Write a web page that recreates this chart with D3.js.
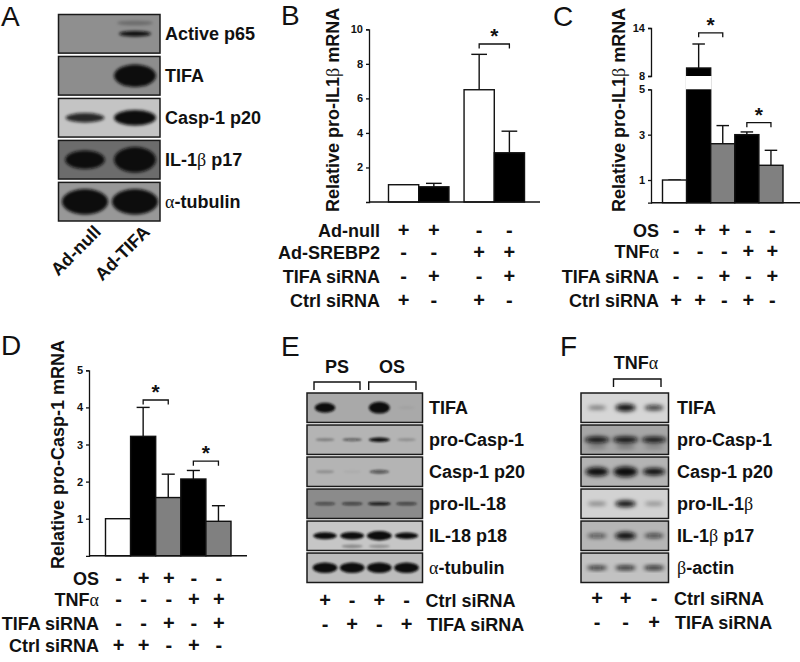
<!DOCTYPE html>
<html>
<head>
<meta charset="utf-8">
<script src="https://cdn.jsdelivr.net/npm/d3@7"></script>
<style>
  body { margin: 0; background: #fff; }
  text { font-family: "Liberation Sans", Arial, sans-serif; fill: #111; }
</style>
</head>
<body>
<svg id="fig" width="800" height="662"></svg>
<script>
// ---- bar data ----
const panelBValues = [1, 0.88, 6.5, 2.85];
const panelBErrTop = [1, 1.08, 8.55, 4.1];
const panelBFills = ["#fff", "#000", "#fff", "#000"];
const panelBRows = ["Ad-null", "Ad-SREBP2", "TIFA siRNA", "Ctrl siRNA"];
const panelBSigns = ["++--", "--++", "-+-+", "+-+-"];

const panelCValues = [1, 9, 2.6, 3.0, 1.65];
const panelCErrTop = [1, 12, 3.4, 3.12, 2.31];
const panelCFills = ["#fff", "#000", "#808080", "#000", "#808080"];
const panelCTicksLow = [1, 3, 5];
const panelCTicksHigh = [8, 14];

const panelDValues = [1, 3.22, 1.57, 2.07, 0.93];
const panelDErrTop = [1, 4.0, 2.2, 2.3, 1.35];
const panelDFills = ["#fff", "#000", "#808080", "#000", "#808080"];

const fiveBarRows = ["OS", "TNFα", "TIFA siRNA", "Ctrl siRNA"];
const fiveBarSigns = ["-++--", "---++", "--+-+", "++-+-"];

// ---- blot data: band strength per lane, 0..1 ----
const blotARows = ["Active p65", "TIFA", "Casp-1 p20", "IL-1β p17", "α-tubulin"];
const blotABands = [[0, 0.8], [0, 1], [0.6, 1], [0.72, 1], [1, 1]];
const blotABg = ["#8f8f8f", "#8d8d8d", "#c4c4c4", "#6c6c6c", "#989898"];
const blotAThick = [0.09, 0.29, 0.2, 0.33, 0.33];
const blotAWide = [0.8, 1, 1, 1, 1.1];

const blotERows = ["TIFA", "pro-Casp-1", "Casp-1 p20", "pro-IL-18", "IL-18 p18", "α-tubulin"];
const blotEBands = [[0.85, 0, 1, 0.03], [0.22, 0.35, 0.75, 0.15], [0.15, 0.03, 0.4, 0], [0.4, 0.45, 0.85, 0.45], [0.75, 0.8, 1, 0.7], [0.95, 0.95, 0.95, 0.95]];
const blotEBg = ["#a9a9a9", "#b4b4b4", "#b4b4b4", "#8b8b8b", "#c6c6c6", "#bcbcbc"];
const blotEThick = [0.2, 0.1, 0.16, 0.06, 0.16, 0.19];
const blotEWide = [0.85, 0.9, 0.9, 0.95, 1, 1];
const blotECtrl = "+-+-";
const blotETifa = "-+-+";

const blotFRows = ["TIFA", "pro-Casp-1", "Casp-1 p20", "pro-IL-1β", "IL-1β p17", "β-actin"];
const blotFBands = [[0.4, 0.9, 0.6], [0.9, 0.95, 0.85], [0.85, 1, 0.7], [0.35, 0.8, 0.3], [0.5, 0.9, 0.55], [0.7, 0.75, 0.75]];
const blotFBg = ["#d6d6d6", "#a6a6a6", "#b4b4b4", "#d2d2d2", "#b6b6b6", "#c2c2c2"];
const blotFThick = [0.14, 0.12, 0.18, 0.14, 0.14, 0.09];
const blotFWide = [0.9, 1.1, 1.05, 0.95, 0.95, 0.95];
const blotFCtrl = "++-";
const blotFTifa = "--+";

const svg = d3.select("#fig");
const labelSize = 18;

const defs = svg.append("defs");
[["blurA", 1.5], ["blurE", 1.2], ["blurF", 2]].forEach(([id, s]) => {
  defs.append("filter").attr("id", id)
    .attr("x", "-30%").attr("y", "-80%").attr("width", "160%").attr("height", "260%")
    .append("feGaussianBlur").attr("stdDeviation", s);
});

// greek letters sit in a thin serif in the original
function addText(el, str) {
  str.split(/([αβ])/).filter(s => s).forEach(s => {
    const t = el.append("tspan").text(s);
    if (s === "α" || s === "β") t.style("font-family", "'Liberation Serif'").attr("font-weight", "normal");
  });
  return el;
}

function label(x, y, str, anchor = "start", size = labelSize, g = svg) {
  return addText(g.append("text").attr("x", x).attr("y", y)
    .attr("text-anchor", anchor).attr("font-size", size).attr("font-weight", "bold"), str);
}

function panelLetter(str, x, y) {
  svg.append("text").attr("x", x).attr("y", y).attr("font-size", 28).text(str);
}

function yTitle(str, x, y) {
  addText(svg.append("text")
    .attr("transform", `translate(${x},${y}) rotate(-90)`)
    .attr("font-size", 18).attr("font-weight", "bold"), str);
}

function styleAxis(g) {
  g.selectAll("path,line").attr("stroke", "#111").attr("stroke-width", 1.3);
  g.selectAll("text").attr("font-size", 11).attr("font-weight", "bold")
    .style("font-family", "'Liberation Sans'").attr("fill", "#111");
}

function drawBars(g, x, y, values, errTop, fills) {
  const w = x.bandwidth();
  const capW = w * 0.26;
  values.forEach((v, i) => {
    const cx = x(i) + w / 2;
    g.append("line").attr("x1", cx).attr("x2", cx).attr("y1", y(v)).attr("y2", y(errTop[i]))
      .attr("stroke", "#111").attr("stroke-width", 1.4);
    g.append("line").attr("x1", cx - capW).attr("x2", cx + capW).attr("y1", y(errTop[i])).attr("y2", y(errTop[i]))
      .attr("stroke", "#111").attr("stroke-width", 1.4);
  });
  g.selectAll(null).data(values).enter().append("rect")
    .attr("x", (d, i) => x(i))
    .attr("width", w)
    .attr("y", d => y(d))
    .attr("height", d => y(0) - y(d))
    .attr("fill", (d, i) => fills[i])
    .attr("stroke", "#111")
    .attr("stroke-width", 1.4);
}

function sigBracket(x0, x1, y0) {
  svg.append("path")
    .attr("d", d3.line()([[x0, y0 + 4.5], [x0, y0], [x1, y0], [x1, y0 + 4.5]]))
    .attr("fill", "none").attr("stroke", "#111").attr("stroke-width", 1.3);
  svg.append("text").attr("x", (x0 + x1) / 2).attr("y", y0 - 1)
    .attr("text-anchor", "middle").attr("font-size", 21).attr("font-weight", "bold").text("*");
}

function signTable(rows, signs, xPos, labelX, rowY) {
  rows.forEach((r, i) => {
    label(labelX, rowY[i], r, "end");
    signs[i].split("").forEach((s, j) => {
      svg.append("text").attr("x", xPos(j)).attr("y", rowY[i])
        .attr("text-anchor", "middle").attr("font-size", labelSize + 2).attr("font-weight", "bold").text(s);
    });
  });
}

function drawBlot(id, rows, bands, bgs, thick, wide, box, lanes, blur, bandW, ghosts = []) {
  const g = svg.append("g");
  const rowY = d3.scaleBand().domain(d3.range(rows.length)).range([box.top, box.bottom]).paddingInner(box.gap);
  const laneX = d3.scalePoint().domain(d3.range(bands[0].length)).range(lanes);
  const rx = d3.scaleLinear().domain([0, 1]).range([bandW * 0.8, bandW]);
  const op = d3.scaleLinear().domain([0, 0.7]).range([0, 1]).clamp(true);
  rows.forEach((r, i) => {
    const y0 = rowY(i), h = rowY.bandwidth();
    const clipId = `${id}-clip-${i}`;
    defs.append("clipPath").attr("id", clipId).append("rect")
      .attr("x", box.left).attr("y", y0).attr("width", box.right - box.left).attr("height", h);
    g.append("rect").attr("x", box.left).attr("y", y0).attr("width", box.right - box.left).attr("height", h)
      .attr("fill", bgs[i]);
    const row = g.append("g").attr("clip-path", `url(#${clipId})`).append("g").attr("filter", `url(#${blur})`);
    row.selectAll("ellipse").data(bands[i]).enter().append("ellipse")
      .attr("cx", (d, j) => laneX(j))
      .attr("cy", y0 + h / 2)
      .attr("rx", d => rx(d) * wide[i])
      .attr("ry", d => Math.max(1.6, thick[i] * h * d))
      .attr("fill", "#0e0e0e")
      .attr("opacity", d => op(d));
    // faint side bands
    ghosts.filter(k => k.row === i).forEach(k => {
      row.append("ellipse").attr("cx", laneX(k.lane)).attr("cy", y0 + h * (0.5 + k.dy))
        .attr("rx", bandW * 0.85).attr("ry", h * 0.06).attr("fill", "#0e0e0e").attr("opacity", k.op);
    });
    g.append("rect").attr("x", box.left).attr("y", y0).attr("width", box.right - box.left).attr("height", h)
      .attr("fill", "none").attr("stroke", "#1a1a1a").attr("stroke-width", 1.5);
    label(box.labelX, y0 + h / 2 + 6, r);
  });
  return laneX;
}

function topBracket(x0, x1, yTop, str, strX, strY) {
  svg.append("path")
    .attr("d", d3.line()([[x0, yTop + 8], [x0, yTop], [x1, yTop], [x1, yTop + 8]]))
    .attr("fill", "none").attr("stroke", "#111").attr("stroke-width", 1.4);
  label(strX, strY, str, "middle");
}

// ---- A ----
panelLetter("A", 1, 26);
drawBlot("a", blotARows, blotABands, blotABg, blotAThick, blotAWide,
  { left: 58.5, right: 160, top: 14.5, bottom: 221, gap: 0.08, labelX: 165 }, [85, 135], "blurA", 21,
  [{ row: 0, lane: 1, dy: -0.28, op: 0.25 }]);
[["Ad-null", 102, 233], ["Ad-TIFA", 151, 233]].forEach(([t, x, y]) => {
  svg.append("text").attr("transform", `translate(${x},${y}) rotate(-45)`)
    .attr("text-anchor", "end").attr("font-size", labelSize).attr("font-weight", "bold").text(t);
});

// ---- B ----
panelLetter("B", 281, 25);
yTitle("Relative pro-IL1β mRNA", 339, 212);
{
  const y = d3.scaleLinear().domain([0, 10]).range([202, 29.3]);
  const groups = d3.scaleBand().domain([0, 1]).range([388.5, 524.5]).paddingInner(0.2);
  const inner = d3.scaleBand().domain([0, 1]).range([0, groups.bandwidth()]);
  const x = i => groups(Math.floor(i / 2)) + inner(i % 2);
  x.bandwidth = () => inner.bandwidth();
  const g = svg.append("g");
  drawBars(g, x, y, panelBValues, panelBErrTop, panelBFills);
  const ax = svg.append("g").attr("transform", "translate(369,0)")
    .call(d3.axisLeft(y).tickValues([2, 4, 6, 8, 10]).tickFormat(d3.format("d")).tickSize(3).tickPadding(3));
  styleAxis(ax);
  svg.append("line").attr("x1", 369).attr("x2", 540).attr("y1", y(0)).attr("y2", y(0)).attr("stroke", "#111").attr("stroke-width", 1.4);
  sigBracket(x(2) + x.bandwidth() / 2, x(3) + x.bandwidth() / 2, y(9.15));
  signTable(panelBRows, panelBSigns, j => x(j) + x.bandwidth() / 2, 380, [236.5, 258.5, 283, 306.5]);
}

// ---- C ----
panelLetter("C", 553, 26);
yTitle("Relative pro-IL1β mRNA", 625, 212);
{
  const yLow = d3.scaleLinear().domain([0, 5]).range([202.7, 89.3]);
  const yHigh = d3.scaleLinear().domain([8, 14]).range([76, 28]);
  const yAll = v => v > 5 ? yHigh(v) : yLow(v);
  const x = d3.scaleBand().domain(d3.range(5)).range([662.5, 783]);
  const g = svg.append("g");
  drawBars(g, x, yAll, panelCValues, panelCErrTop, panelCFills);
  // white gap of the broken axis across the tall bar
  g.append("rect").attr("x", x(1) - 1).attr("width", x.bandwidth() + 2)
    .attr("y", yHigh(8)).attr("height", yLow(5) - yHigh(8)).attr("fill", "#fff");
  const axLow = svg.append("g").attr("transform", "translate(651,0)")
    .call(d3.axisLeft(yLow).tickValues(panelCTicksLow).tickFormat(d3.format("d")).tickSize(3).tickPadding(3));
  styleAxis(axLow);
  const axHigh = svg.append("g").attr("transform", "translate(651,0)")
    .call(d3.axisLeft(yHigh).tickValues(panelCTicksHigh).tickFormat(d3.format("d")).tickSize(3).tickPadding(3));
  styleAxis(axHigh);
  svg.append("line").attr("x1", 651).attr("x2", 800).attr("y1", yLow(0)).attr("y2", yLow(0)).attr("stroke", "#111").attr("stroke-width", 1.4);
  sigBracket(x(1) + x.bandwidth() / 2, x(2) + x.bandwidth() / 2, yHigh(13.4));
  sigBracket(x(3) + x.bandwidth() / 2, x(4) + x.bandwidth() / 2, yLow(3.53));
  signTable(fiveBarRows, fiveBarSigns, j => x(j) + x.bandwidth() / 2 + 1.5, 659, [236.5, 258, 282.5, 306.5]);
}

// ---- D ----
panelLetter("D", 1, 355);
yTitle("Relative pro-Casp-1 mRNA", 64, 569);
{
  const y = d3.scaleLinear().domain([0, 5]).range([555.8, 370.3]);
  const x = d3.scaleBand().domain(d3.range(5)).range([105.5, 231]);
  const g = svg.append("g");
  drawBars(g, x, y, panelDValues, panelDErrTop, panelDFills);
  const ax = svg.append("g").attr("transform", "translate(89,0)")
    .call(d3.axisLeft(y).tickValues([1, 2, 3, 4, 5]).tickFormat(d3.format("d")).tickSize(3).tickPadding(3));
  styleAxis(ax);
  svg.append("line").attr("x1", 89).attr("x2", 247).attr("y1", y(0)).attr("y2", y(0)).attr("stroke", "#111").attr("stroke-width", 1.4);
  sigBracket(x(1) + x.bandwidth() / 2, x(2) + x.bandwidth() / 2, y(4.2));
  sigBracket(x(3) + x.bandwidth() / 2, x(4) + x.bandwidth() / 2, y(2.55));
  signTable(fiveBarRows, fiveBarSigns, j => x(j) + x.bandwidth() / 2 + 0.5, 99, [585, 606, 630, 651.5]);
}

// ---- E ----
panelLetter("E", 281, 356);
{
  const lanes = drawBlot("e", blotERows, blotEBands, blotEBg, blotEThick, blotEWide,
    { left: 307, right: 422.5, top: 393, bottom: 582.5, gap: 0.08, labelX: 429 }, [325, 406.5], "blurE", 12.5,
    [{ row: 4, lane: 1, dy: 0.36, op: 0.3 }, { row: 4, lane: 2, dy: 0.36, op: 0.25 }]);
  topBracket(314, 360, 382, "PS", 337, 373);
  topBracket(368.7, 416, 382, "OS", 392, 373);
  [[blotECtrl, 607], [blotETifa, 631]].forEach(([signs, yy]) => {
    signs.split("").forEach((s, j) => {
      svg.append("text").attr("x", lanes(j)).attr("y", yy).attr("text-anchor", "middle")
        .attr("font-size", labelSize + 2).attr("font-weight", "bold").text(s);
    });
  });
  label(425.5, 606.5, "Ctrl siRNA");
  label(427, 630.5, "TIFA siRNA");
}

// ---- F ----
panelLetter("F", 560, 356);
{
  const lanes = drawBlot("f", blotFRows, blotFBands, blotFBg, blotFThick, blotFWide,
    { left: 581, right: 668.5, top: 393, bottom: 582.5, gap: 0.08, labelX: 677 }, [597, 654], "blurF", 11.5,
    [{ row: 1, lane: 0, dy: 0.25, op: 0.3 }, { row: 1, lane: 1, dy: 0.25, op: 0.35 }, { row: 1, lane: 2, dy: 0.25, op: 0.25 }]);
  topBracket(613.5, 661, 379, "TNFα", 636, 369);
  [[blotFCtrl, 605], [blotFTifa, 629]].forEach(([signs, yy]) => {
    signs.split("").forEach((s, j) => {
      svg.append("text").attr("x", lanes(j)).attr("y", yy).attr("text-anchor", "middle")
        .attr("font-size", labelSize + 2).attr("font-weight", "bold").text(s);
    });
  });
  label(674, 605, "Ctrl siRNA");
  label(675, 629, "TIFA siRNA");
}
</script>
</body>
</html>
